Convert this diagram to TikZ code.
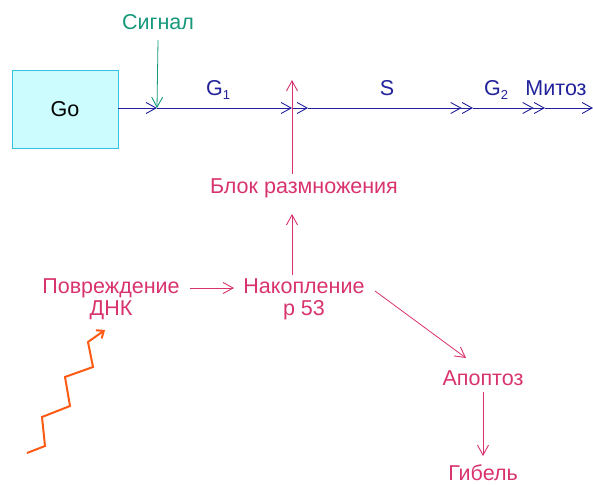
\documentclass[tikz,border=0pt]{standalone}
\usepackage{fontspec}
\setmainfont{Liberation Sans}
\usetikzlibrary{arrows.meta}
\definecolor{cblue}{HTML}{22229A}
\definecolor{cred}{HTML}{D8336E}
\definecolor{cgreen}{HTML}{16987A}
\definecolor{corange}{HTML}{FF5A14}
\definecolor{cboxfill}{HTML}{CCFCFE}
\definecolor{cboxdraw}{HTML}{33C2E6}
\tikzset{
  barb/.tip={Straight Barb[length=10pt,width=11pt,line width=0.9pt]},
  bline/.style={draw=cblue,line width=0.9pt},
  rline/.style={draw=cred,line width=0.8pt,-barb},
  lbl/.style={inner sep=1pt,font=\fontsize{21.5}{22}\selectfont},
  rlbl/.style={lbl,text=cred,align=center},
  blbl/.style={lbl,text=cblue},
}
\begin{document}
\begin{tikzpicture}[x=1pt,y=-1pt]
\useasboundingbox (0,0) rectangle (593,484);
% Go box
\node[draw=cboxdraw,fill=cboxfill,line width=0.8pt,minimum width=106pt,minimum height=78pt,inner sep=0pt,font=\fontsize{21.5}{22}\selectfont] (go) at (65,109) {Go};
% main line coordinates
\coordinate (j1) at (157,108);
\coordinate (j2) at (292,108);
\coordinate (j3) at (308,108);
\coordinate (j4) at (473,108);
\coordinate (j5) at (545,108);
\coordinate (j6) at (593,108);
\draw[bline,-barb] (go.east |- j1) -- (j1);
\draw[bline,-barb] (j1) -- (j2);
\draw[bline,-barb] (j2) -- (j3);
\draw[bline,-{barb[]barb}] (j3) -- (j4);
\draw[bline,-{barb[]barb}] (j4) -- (j5);
\draw[bline,-barb] (j5) -- (j6);
% labels on main line
\node[blbl] (g1) at (218,90) {G\raisebox{-4pt}{\fontsize{13}{14}\selectfont 1}};
\node[blbl] (s) at (387,88) {S};
\node[blbl] (g2) at (496,90) {G\raisebox{-4pt}{\fontsize{13}{14}\selectfont 2}};
\node[blbl] (mit) at (556,88) {Митоз};
% signal
\node[lbl,text=cgreen] (sig) at (158,22) {Сигнал};
\draw[draw=cgreen,line width=0.8pt,-barb] (158,40) -- (j1);
% red part
\node[rlbl] (blok) at (304,188) {Блок размножения};
\node[rlbl] (pov) at (111,299) {Повреждение\\ДНК};
\node[rlbl] (nak) at (304,299) {Накопление\\р 53};
\node[rlbl] (apo) at (483,378) {Апоптоз};
\node[rlbl] (gib) at (483,473) {Гибель};
\coordinate (top) at (292,80);
\draw[rline] (292,275) -- (292,214);
\draw[rline] (292,174) -- (top);
\draw[rline] (190,288) -- (234,288);
\draw[rline] (375,291) -- (466,358);
\draw[rline] (483,392) -- (483,456);
% zigzag
\draw[draw=corange,line width=2pt,line join=miter,-{Straight Barb[length=6pt,width=10pt,line width=2pt]}]
  (27,453) -- (45,446) -- (42,417) -- (70,406) -- (65,377) -- (93,367) -- (88,342) -- (105,330);
\end{tikzpicture}
\end{document}
